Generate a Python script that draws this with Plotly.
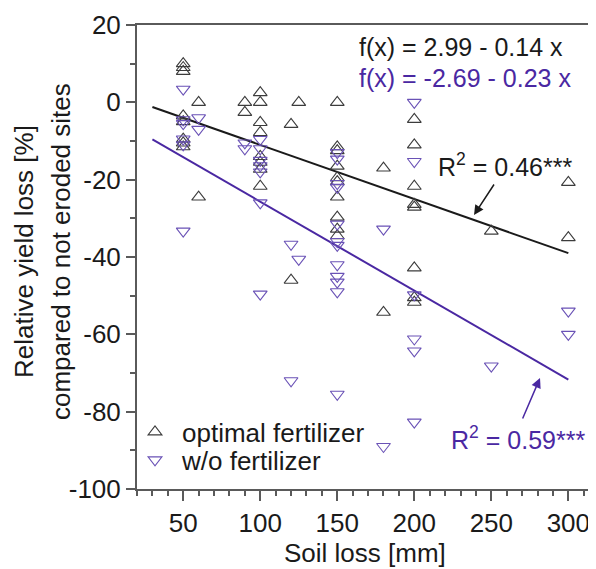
import plotly.graph_objects as go

# ---- data ----
opt_x = [50, 50, 50, 50, 50, 50, 50, 50,
         60, 60,
         90, 90,
         100, 100, 100, 100, 100, 100, 100, 100,
         120, 120, 125,
         150, 150, 150, 150, 150, 150, 150, 150, 150, 150,
         180, 180,
         200, 200, 200, 200, 200, 200, 200, 200,
         250, 300, 300]
opt_y = [10, 9, 8, -3.5, -5, -9.5, -10.5, -11.5,
         0, -24.5,
         0, -2.6,
         2.5, 0, -5.2, -7.8, -14, -15.5, -17.3, -21.7,
         -5.7, -46, 0,
         0, -11.5, -12.5, -16.5, -19.5, -20.5, -24.5, -29.7, -32.8, -34.5,
         -17, -54.3,
         -4.4, -11, -21.7, -26.4, -27.1, -42.8, -50.5, -51.7,
         -33.3, -20.7, -35]

wo_x = [50, 50, 50, 50, 50, 50,
        60, 60,
        90, 90,
        100, 100, 100, 100, 100, 100, 100,
        120, 120, 125,
        150, 150, 150, 150, 150, 150, 150, 150, 150, 150, 150, 150,
        180, 180,
        200, 200, 200, 200, 200, 200,
        250, 300, 300]
wo_y = [3.4, -4.5, -5.5, -9.5, -11, -33.3,
        -4, -7,
        -10.5, -12,
        -9.6, -12, -15, -16.4, -18, -26, -49.6,
        -36.7, -72, -40.6,
        -13, -14.7, -21, -22, -31.5, -36, -37, -42, -45, -46.5, -49, -75.5,
        -32.8, -89,
        0, -15.3, -49.8, -61.2, -64.3, -82.7,
        -68.2, -54, -60]

fit_x = [30, 300]
opt_coef = (2.99, -0.14)
wo_coef = (-2.69, -0.23)
opt_fit_y = [opt_coef[0] + opt_coef[1] * v for v in fit_x]
wo_fit_y = [wo_coef[0] + wo_coef[1] * v for v in fit_x]

x_ticks = [50, 100, 150, 200, 250, 300]
x_tick_labels = ["50", "100", "150", "200", "250", "300"]
y_ticks = [20, 0, -20, -40, -60, -80, -100]
y_tick_labels = ["20", "0", "-20", "-40", "-60", "-80", "-100"]

# ---- styles ----
FONT = "Liberation Sans, Arial, sans-serif"
BLACK = "#1a1a1a"
GREY_MK = "#3c3c3c"
PURPLE = "#4a28a2"
PURPLE_MK = "#6a52b6"
AXIS = "#5a5a5a"
FS = 26
FS_EQ = 25

fig = go.Figure()
fig.add_trace(go.Scatter(x=fit_x, y=opt_fit_y, mode="lines",
                         line=dict(color=BLACK, width=2), showlegend=False))
fig.add_trace(go.Scatter(x=fit_x, y=wo_fit_y, mode="lines",
                         line=dict(color=PURPLE, width=2), showlegend=False))
fig.add_trace(go.Scatter(x=opt_x, y=opt_y, mode="markers", name="optimal fertilizer",
                         marker=dict(symbol="triangle-up-open", size=12,
                                     color=GREY_MK, line=dict(width=1.1)),
                         legend="legend"))
fig.add_trace(go.Scatter(x=wo_x, y=wo_y, mode="markers", name="w/o fertilizer",
                         marker=dict(symbol="triangle-down-open", size=12,
                                     color=PURPLE_MK, line=dict(width=1.1)),
                         legend="legend2"))

# page body has an 8px margin -> figure is placed at (8, 8) in the window
OFF = 8
W, H = 596 - OFF, 569 - OFF
L, R, T, B = 137 - OFF, 3, 25 - OFF, H - (489 - OFF)
pw = W - L - R
ph = H - T - B

def px(xp):
    return (xp - OFF - L) / pw

def py(yp):
    return (H - B - (yp - OFF)) / ph

ann = []
ann.append(dict(text="f(x) = 2.99 - 0.14 x", x=px(357), y=py(47), xref="paper", yref="paper",
                xanchor="left", yanchor="middle", showarrow=False,
                font=dict(size=FS_EQ, color=BLACK, family=FONT)))
ann.append(dict(text="f(x) = -2.69 - 0.23 x", x=px(357), y=py(78), xref="paper", yref="paper",
                xanchor="left", yanchor="middle", showarrow=False,
                font=dict(size=FS_EQ, color=PURPLE, family=FONT)))
ann.append(dict(text="R<sup>2</sup> = 0.46***", x=px(505), y=py(165), xref="paper", yref="paper",
                xanchor="center", yanchor="middle", showarrow=False,
                font=dict(size=FS_EQ, color=BLACK, family=FONT)))
ann.append(dict(text="R<sup>2</sup> = 0.59***", x=px(518), y=py(438), xref="paper", yref="paper",
                xanchor="center", yanchor="middle", showarrow=False,
                font=dict(size=FS_EQ, color=PURPLE, family=FONT)))
ann.append(dict(text="", x=px(474), y=py(215), xref="paper", yref="paper",
                ax=21, ay=-32, showarrow=True, arrowhead=2, arrowsize=1.3,
                arrowwidth=1.5, arrowcolor=BLACK))
ann.append(dict(text="", x=px(540), y=py(378), xref="paper", yref="paper",
                ax=-18, ay=42, showarrow=True, arrowhead=2, arrowsize=1.3,
                arrowwidth=1.5, arrowcolor=PURPLE))
ann.append(dict(text="Soil loss [mm]", x=0.5, y=py(553), xref="paper", yref="paper",
                xanchor="center", yanchor="middle", showarrow=False,
                font=dict(size=FS, color=BLACK, family=FONT)))
ann.append(dict(text="Relative yield loss [%]", x=px(24), y=py(252), xref="paper", yref="paper",
                xanchor="center", yanchor="middle", showarrow=False, textangle=-90,
                font=dict(size=FS, color=BLACK, family=FONT)))
ann.append(dict(text="compared to not eroded sites", x=px(61), y=py(252), xref="paper", yref="paper",
                xanchor="center", yanchor="middle", showarrow=False, textangle=-90,
                font=dict(size=FS, color=BLACK, family=FONT)))

fig.update_layout(
    width=W, height=H,
    margin=dict(l=L, r=R, t=T, b=B, pad=0),
    paper_bgcolor="white", plot_bgcolor="white",
    font=dict(family=FONT, size=FS, color=BLACK),
    annotations=ann,
    legend=dict(x=px(128), y=py(432), xanchor="left", yanchor="middle", itemwidth=44,
                bgcolor="rgba(0,0,0,0)", font=dict(size=FS, color=BLACK, family=FONT)),
    legend2=dict(x=px(128), y=py(460), xanchor="left", yanchor="middle", itemwidth=44,
                 bgcolor="rgba(0,0,0,0)", font=dict(size=FS, color=BLACK, family=FONT)),
    xaxis=dict(range=[20, 316], tickvals=x_ticks, ticktext=x_tick_labels, ticks="outside",
               ticklen=10, tickwidth=1.5, tickcolor=AXIS, showline=True, linecolor=AXIS,
               linewidth=2, mirror=True, showgrid=False, zeroline=False,
               minor=dict(dtick=10, tick0=0, ticks="outside", ticklen=5, tickwidth=1.5,
                          tickcolor=AXIS, showgrid=False),
               tickfont=dict(size=FS, color=BLACK, family=FONT)),
    yaxis=dict(range=[-100, 20], tickvals=y_ticks, ticktext=y_tick_labels, ticks="outside",
               ticklen=9, tickwidth=1.5, tickcolor=AXIS, showline=True, linecolor=AXIS,
               linewidth=2, showgrid=False, zeroline=False,
               minor=dict(dtick=10, tick0=0, ticks="outside", ticklen=5, tickwidth=1.5,
                          tickcolor=AXIS, showgrid=False),
               tickfont=dict(size=FS, color=BLACK, family=FONT)),
)

fig.write_html("out.html")
